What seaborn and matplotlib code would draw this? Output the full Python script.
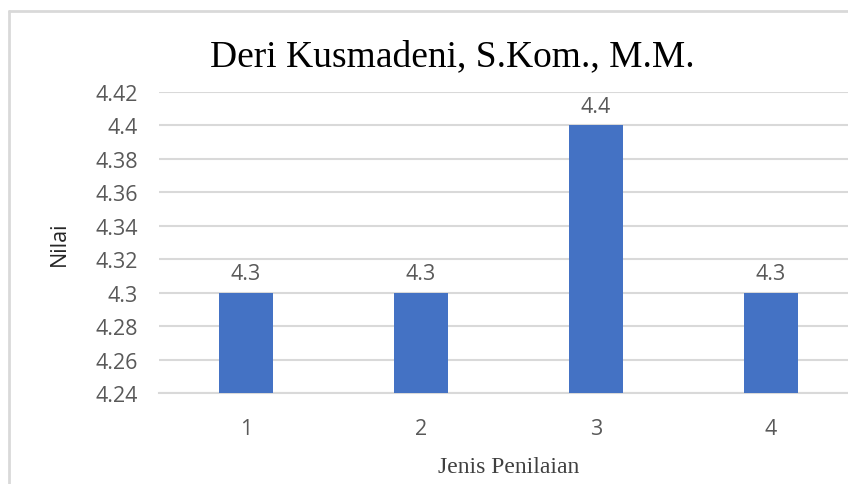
import matplotlib
matplotlib.use('Agg')
import matplotlib.pyplot as plt
from matplotlib.lines import Line2D
import numpy as np
import pandas as pd
import seaborn as sns

# data
categories = ['1', '2', '3', '4']
values = [4.3, 4.3, 4.4, 4.3]
y_ticks = [4.24, 4.26, 4.28, 4.30, 4.32, 4.34, 4.36, 4.38, 4.40, 4.42]

title = 'Deri Kusmadeni, S.Kom., M.M.'
x_label = 'Jenis Penilaian'
y_label = 'Nilai'

bar_color = '#4472C4'
text_gray = '#595959'
grid_gray = '#d9d9d9'

sns.set_theme(style='white')
plt.rcParams['font.family'] = ['Open Sans', 'DejaVu Sans']

df = pd.DataFrame({'jenis': categories, 'nilai': values})

fig = plt.figure(figsize=(8.48, 4.85), dpi=100)
# plot area is cropped on the right like the reference
ax = fig.add_axes([158.5 / 848, 1 - 394 / 485, 700 / 848, (394 - 93) / 485])

sns.barplot(data=df, x='jenis', y='nilai', order=categories, color=bar_color,
            width=0.31, saturation=1, linewidth=0, ax=ax, zorder=3)

ax.set_ylim(y_ticks[0], y_ticks[-1])
ax.set_xlim(-0.5, len(categories) - 0.5)
ax.set_yticks(y_ticks)
ax.set_yticklabels([f'{t:g}' for t in y_ticks])
ax.yaxis.grid(True, color=grid_gray, linewidth=1.5, zorder=0)
ax.set_axisbelow(True)
for side in ['top', 'right', 'left']:
    ax.spines[side].set_visible(False)
ax.spines['bottom'].set_color(grid_gray)
ax.spines['bottom'].set_linewidth(1.5)
ax.tick_params(axis='both', length=0, labelsize=15.5, labelcolor=text_gray)
ax.tick_params(axis='y', pad=15)
ax.tick_params(axis='x', pad=18)

# data labels
for i, v in enumerate(values):
    ax.annotate(f'{v:g}', (i, v), xytext=(0, 6), textcoords='offset points',
                ha='center', va='bottom', fontsize=15.5, color=text_gray)

ax.set_xlabel(x_label, family='Liberation Serif', fontsize=17, color='#404040', labelpad=12)
ax.set_ylabel(y_label, fontsize=15.5, color='#262626', labelpad=18)

fig.text(452 / 848, 1 - 57 / 485, title, family='Liberation Serif', fontsize=27,
         ha='center', va='center', color='black')

# chart frame (left and top edges visible)
fig.add_artist(Line2D([9 / 848, 9 / 848], [0, 1 - 12 / 485], transform=fig.transFigure,
                      color=grid_gray, linewidth=2))
fig.add_artist(Line2D([9 / 848, 1], [1 - 12 / 485, 1 - 12 / 485], transform=fig.transFigure,
                      color=grid_gray, linewidth=2))

fig.savefig('out.png', dpi=100)
